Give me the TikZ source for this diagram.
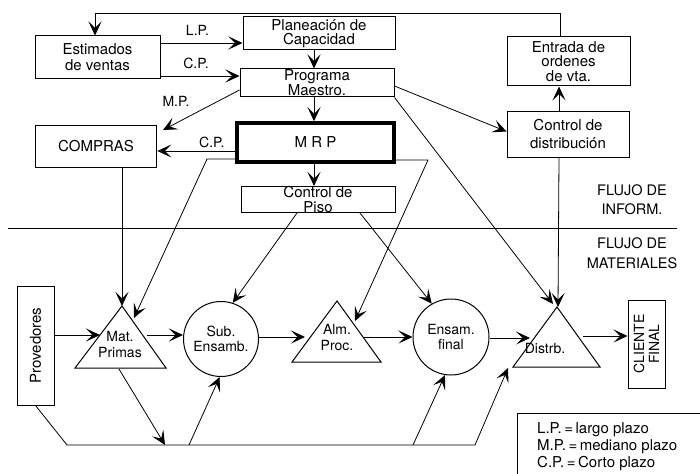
\documentclass[tikz,border=0pt]{standalone}
\usepackage{fontspec}
\setmainfont{TeX Gyre Heros}
\usetikzlibrary{arrows.meta}
\begin{document}
\begin{tikzpicture}[x=1pt,y=-1pt,
  arr/.style={-{Stealth[length=14pt,width=13pt,inset=6.5pt]}, line width=0.8pt},
  box/.style={draw, line width=1pt, inner sep=0pt, align=center,
    font=\fontsize{15}{16}\selectfont},
  circ/.style={draw, circle, line width=1pt, inner sep=0pt, align=center,
    minimum size=75pt, font=\fontsize{14}{15.5}\selectfont},
  trit/.style={inner sep=0pt, align=center, font=\fontsize{14}{16}\selectfont},
  tri/.style={line width=1pt, line join=miter},
  lbl/.style={font=\fontsize{14}{15}\selectfont, inner sep=1pt},
  flow/.style={align=center, font=\fontsize{14.5}{19.5}\selectfont},
]
\useasboundingbox (0,0) rectangle (700,473);

% ---------- information flow ----------
\node[box, minimum width=125pt, minimum height=43pt] (est) at (97.5,57.5) {Estimados\\de ventas};
\node[box, minimum width=152pt, minimum height=33pt, font=\fontsize{15}{14.5}\selectfont] (plan) at (319,33.5) {Planeación de\\Capacidad};
\node[box, minimum width=154pt, minimum height=28pt, font=\fontsize{15}{14}\selectfont] (prog) at (317,83) {Programa\\Maestro.};
\node[box, line width=3.5pt, minimum width=157pt, minimum height=39pt] (mrp) at (315.5,142.5) {M R P};
\node[box, minimum width=154pt, minimum height=26pt, font=\fontsize{15}{14.5}\selectfont] (piso) at (318,199.5) {Control de\\Piso};
\node[box, line width=1.8pt, minimum width=121pt, minimum height=42pt] (compras) at (96,146.5) {COMPRAS};
\node[box, minimum width=123pt, minimum height=49pt, font=\fontsize{15}{14.5}\selectfont] (entrada) at (568.5,61.5) {Entrada de\\ordenes\\de vta.};
\node[box, minimum width=122pt, minimum height=45pt, font=\fontsize{15}{18}\selectfont] (cdist) at (568,134.5) {Control de\\distribución};

% separator between the two flows
\coordinate (sepL) at (8,228);
\coordinate (sepR) at (677,228);
\draw[line width=0.9pt] (sepL) -- (sepR);
\node[flow] (finf) at (632,199.5) {FLUJO DE\\INFORM.};
\node[flow] (fmat) at (632,253) {FLUJO DE\\MATERIALES};

% ---------- material flow ----------
\node[box, minimum width=37pt, minimum height=119pt] (prov) at (35.5,345.5) {};
\node[rotate=90, font=\fontsize{15}{16}\selectfont] (provtxt) at (prov.center) {Provedores};
\node[box, minimum width=37pt, minimum height=88pt] (cli) at (646.5,344) {};
\node[rotate=90, align=center, font=\fontsize{14}{15}\selectfont] (clitxt) at (cli.center) {CLIENTE\\FINAL};

\coordinate (mpA) at (122,306);
\coordinate (mpL) at (75,368);
\coordinate (mpR) at (166,368);
\draw[tri] (mpA) -- (mpR) -- (mpL) -- cycle;
\node[trit] (matp) at (120,344) {Mat.\\Primas};

\node[circ] (sub) at (221,339) {Sub.\\Ensamb.};

\coordinate (alA) at (337,301);
\coordinate (alL) at (292,362);
\coordinate (alR) at (381,362);
\draw[tri] (alA) -- (alR) -- (alL) -- cycle;
\node[trit] (alm) at (337,337) {Alm.\\Proc.};

\node[circ, minimum size=76pt] (ens) at (451,337) {Ensam.\\final};

\coordinate (dsA) at (557,307);
\coordinate (dsL) at (513,367);
\coordinate (dsR) at (600,367);
\draw[tri] (dsA) -- (dsR) -- (dsL) -- cycle;
\node[trit] (dist) at (545,348) {Distrb.};

% legend
\node[draw, line width=1pt, anchor=north west, minimum width=200pt, minimum height=80pt] (legbox) at (517,413) {};
\node[anchor=west, align=left, inner sep=0pt, font=\fontsize{15}{17}\selectfont] (leg) at (537,446.5)
  {L.P.\,=\,largo plazo\\M.P.\,=\,mediano plazo\\C.P.\,=\,Corto plazo};

% ---------- connection points ----------
\coordinate (fbR) at (560,13);
\coordinate (fbL) at (95,13);
\coordinate (lpY) at (0,43);
\coordinate (cpY) at (0,76);
\coordinate (vx) at (314,0);
\coordinate (dx) at (559,0);
\coordinate (cpY2) at (0,151);
\coordinate (cmpTip) at (163,130);
\coordinate (mrpL) at (207,159);
\coordinate (mrpLy) at (0,159);
\coordinate (mrpR) at (428,160);
\coordinate (mrpRy) at (0,160);
\coordinate (mpInMrp) at (134,318);
\coordinate (mpInL) at (100,335);
\coordinate (mpOut) at (147,335);
\coordinate (mpBase) at (119,369);
\coordinate (subY) at (0,335);
\coordinate (alIn) at (305,337);
\coordinate (alOut) at (363,337);
\coordinate (alInMrp) at (355,321);
\coordinate (dsIn) at (530,338);
\coordinate (dsOut) at (583,336);
\coordinate (dsTop) at (558,307);
\coordinate (dsTopL) at (553,304);
\coordinate (dsBase) at (508,368);
\coordinate (b1) at (67,445);
\coordinate (bm) at (165,445);
\coordinate (bs) at (189,445);
\coordinate (be) at (413,445);
\coordinate (b2) at (475,445);

% ---------- information connectors ----------
\draw[arr] (entrada.north -| fbR) -- (fbR) -- (fbL) -- (est.north -| fbL);
\draw[arr] (est.east |- lpY) -- (plan.west |- lpY) node[lbl, midway, above=6pt, xshift=-4pt] {L.P.};
\draw[arr] (est.east |- cpY) -- (prog.west |- cpY) node[lbl, midway, above=6pt, xshift=-4pt] {C.P.};
\draw[arr] (plan.south -| vx) -- (prog.north -| vx);
\draw[arr] (prog.south -| vx) -- (mrp.north -| vx);
\draw[arr] (mrp.south -| vx) -- (piso.north -| vx);
\draw[arr] ([yshift=-7pt]prog.west) -- (cmpTip) node[lbl, pos=0.7, above=10pt, xshift=-10pt] {M.P.};
\draw[arr] (mrp.west |- cpY2) -- (compras.east |- cpY2) node[lbl, pos=0.3, above=2pt] {C.P.};
\draw[arr] ([yshift=-3pt]prog.east) -- ([yshift=3pt]cdist.west);
\draw[arr] (cdist.north -| dx) -- (entrada.south -| dx);
\draw[arr] (cdist.south -| dx) -- (dsTop);
\draw[arr] (prog.south east) -- (dsTopL);
\draw[arr] (mrp.west |- mrpLy) -- (mrpL) -- (mpInMrp);
\draw[arr] (compras.south -| mpA) -- (mpA);
\draw[arr] ([xshift=-21pt]piso.south) -- (sub.72);
\draw[arr] ([xshift=42pt]piso.south) -- (ens.120);
\draw[arr] (mrp.east |- mrpRy) -- (mrpR) -- (alInMrp);

% ---------- material connectors ----------
\draw[arr] (prov.east |- mpInL) -- (mpInL);
\draw[arr] (mpOut) -- (sub.west |- subY);
\draw[arr] (sub.east |- alIn) -- (alIn);
\draw[arr] (alOut) -- (ens.west |- alOut);
\draw[arr] (ens.east |- dsIn) -- (dsIn);
\draw[arr] (dsOut) -- (cli.west |- dsOut);
\draw[arr] (prov.south) -- (b1) -- (b2) -- (dsBase);
\draw[arr] (mpBase) -- (bm);
\draw[arr] (bs) -- (sub.268);
\draw[arr] (be) -- (ens.261);
\end{tikzpicture}
\end{document}
